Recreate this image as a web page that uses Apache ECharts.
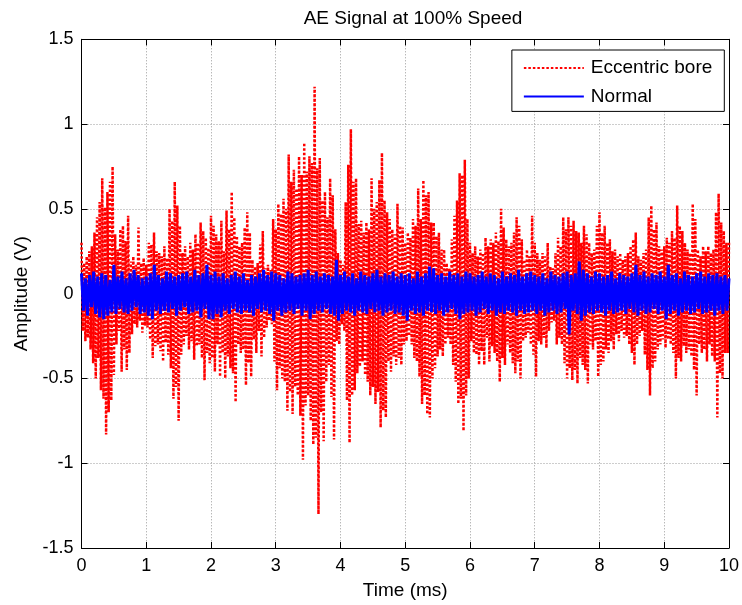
<!DOCTYPE html>
<html>
<head>
<meta charset="utf-8">
<script src="https://cdn.jsdelivr.net/npm/echarts@6/dist/echarts.min.js"></script>
<style>html,body{margin:0;padding:0;background:#fff;}#chart{width:742px;height:605px;}</style>
</head>
<body>
<div id="chart"></div>
<script>
// ---- data ----
var titleText = 'AE Signal at 100% Speed';
var seriesNames = ['Eccentric bore', 'Normal'];
var xRange = [0, 10];          // Time (ms)
var yRange = [-1.5, 1.5];      // Amplitude (V)
var xTickStep = 1;
var yTickStep = 0.5;

// Eccentric bore: successive samples (alternating crest / trough), 0 .. 10 ms
var eccentricValues = [
  0.30,-0.22,0.18,-0.28,0.22,-0.26,0.25,-0.33,0.28,-0.41,0.36,-0.50,0.45,-0.38,0.54,-0.57,0.68,-0.62,0.51,-0.83,
  0.60,-0.70,0.66,-0.63,0.75,-0.48,0.35,-0.30,0.26,-0.22,0.38,-0.46,0.40,-0.33,0.31,-0.45,0.46,-0.35,0.19,-0.24,
  0.22,-0.18,0.17,-0.20,0.39,-0.16,0.18,-0.23,0.21,-0.19,
  0.17,-0.20,0.30,-0.27,0.29,-0.38,0.36,-0.31,0.25,-0.30,0.24,-0.34,0.22,-0.40,0.28,-0.29,0.21,-0.36,0.50,-0.44,
  0.43,-0.62,0.66,-0.55,0.52,-0.75,0.40,-0.36,0.24,-0.30,0.28,-0.25,0.22,-0.33,0.30,-0.28,0.26,-0.39,0.35,-0.31,
  0.30,-0.30,0.42,-0.38,0.37,-0.51,0.33,-0.35,0.27,-0.41,
  0.46,-0.38,0.40,-0.46,0.35,-0.30,0.31,-0.49,0.43,-0.35,0.25,-0.50,0.49,-0.37,0.38,-0.44,0.60,-0.47,0.45,-0.64,
  0.34,-0.30,0.28,-0.35,0.30,-0.33,0.39,-0.54,0.48,-0.41,0.36,-0.49,0.20,-0.27,0.16,-0.35,0.18,-0.22,0.29,-0.37,
  0.37,-0.26,0.15,-0.20,0.17,-0.16,0.14,-0.18,0.44,-0.40,
  0.38,-0.57,0.53,-0.44,0.47,-0.50,0.56,-0.52,0.50,-0.69,0.82,-0.58,0.66,-0.71,0.73,-0.55,0.62,-0.60,0.81,-0.72,
  0.70,-0.98,0.89,-0.66,0.72,-0.60,0.81,-0.75,0.77,-0.89,1.22,-0.85,0.74,-1.30,0.80,-0.70,0.55,-0.87,0.60,-0.52,
  0.45,-0.42,0.68,-0.61,0.58,-0.86,0.38,-0.28,0.24,-0.30,
  0.20,-0.18,0.17,-0.22,0.54,-0.63,0.76,-0.88,0.97,-0.60,0.66,-0.57,0.68,-0.47,0.41,-0.43,0.43,-0.40,0.36,-0.48,
  0.42,-0.52,0.38,-0.60,0.68,-0.55,0.50,-0.65,0.54,-0.58,0.67,-0.79,0.83,-0.69,0.55,-0.73,0.48,-0.40,0.44,-0.46,
  0.38,-0.37,0.35,-0.42,0.53,-0.38,0.40,-0.42,0.39,-0.30,
  0.30,-0.28,0.36,-0.25,0.33,-0.30,0.44,-0.38,0.40,-0.40,0.62,-0.49,0.44,-0.65,0.67,-0.60,0.58,-0.71,0.60,-0.73,
  0.42,-0.50,0.42,-0.44,0.34,-0.37,0.36,-0.33,0.26,-0.37,0.26,-0.30,0.18,-0.26,0.15,-0.30,0.32,-0.42,0.46,-0.52,
  0.55,-0.65,0.71,-0.62,0.70,-0.81,0.79,-0.60,0.44,-0.50,
  0.30,-0.28,0.24,-0.35,0.28,-0.36,0.22,-0.42,0.26,-0.34,0.24,-0.42,0.33,-0.26,0.28,-0.40,0.32,-0.31,0.30,-0.35,
  0.36,-0.40,0.31,-0.52,0.50,-0.38,0.39,-0.42,0.32,-0.30,0.28,-0.35,0.30,-0.41,0.36,-0.47,0.45,-0.40,0.40,-0.50,
  0.32,-0.28,0.20,-0.26,0.26,-0.23,0.22,-0.30,0.46,-0.36,
  0.30,-0.49,0.24,-0.28,0.20,-0.30,0.24,-0.26,0.22,-0.32,0.30,-0.22,0.16,-0.17,0.15,-0.16,0.24,-0.30,0.33,-0.26,
  0.28,-0.30,0.45,-0.41,0.38,-0.50,0.45,-0.44,0.40,-0.51,0.43,-0.45,0.37,-0.53,0.36,-0.38,0.30,-0.42,0.40,-0.45,
  0.35,-0.53,0.30,-0.30,0.24,-0.33,0.26,-0.28,0.40,-0.49,
  0.48,-0.42,0.36,-0.40,0.40,-0.33,0.30,-0.35,0.32,-0.28,0.25,-0.33,0.26,-0.24,0.22,-0.28,0.24,-0.22,0.20,-0.26,
  0.22,-0.25,0.24,-0.30,0.28,-0.35,0.32,-0.42,0.36,-0.30,0.22,-0.25,0.20,-0.22,0.24,-0.36,0.26,-0.45,0.45,-0.60,
  0.52,-0.44,0.38,-0.40,0.42,-0.33,0.28,-0.30,0.26,-0.27,
  0.28,-0.32,0.33,-0.27,0.30,-0.30,0.37,-0.35,0.33,-0.50,0.52,-0.38,0.40,-0.40,0.37,-0.31,0.30,-0.35,0.26,-0.33,
  0.24,-0.37,0.53,-0.45,0.44,-0.60,0.26,-0.30,0.22,-0.35,0.28,-0.33,0.25,-0.40,0.28,-0.30,0.24,-0.37,0.26,-0.40,
  0.48,-0.73,0.59,-0.47,0.42,-0.50,0.37,-0.35,0.30,-0.35,
  0.30
];

// Normal: successive samples, 0 .. 10 ms
var normalValues = [
  0.12,-0.10,0.09,-0.13,0.11,-0.08,0.13,-0.12,0.10,-0.14,0.12,-0.15,0.11,-0.13,0.08,-0.11,0.17,-0.12,0.10,-0.09,0.13,-0.11,0.09,-0.12,0.12,-0.10,0.14,-0.08,0.11,-0.12,0.09,-0.11,
  0.10,-0.13,0.12,-0.15,0.17,-0.10,0.11,-0.12,0.09,-0.10,0.13,-0.11,0.12,-0.09,0.10,-0.13,0.11,-0.10,0.12,-0.08,0.13,-0.12,0.10,-0.11,0.14,-0.10,0.11,-0.14,0.12,-0.09,0.17,-0.15,
  0.11,-0.15,0.13,-0.12,0.10,-0.14,0.12,-0.10,0.09,-0.12,0.11,-0.09,0.13,-0.11,0.10,-0.12,0.12,-0.10,0.08,-0.11,0.11,-0.13,0.10,-0.09,0.12,-0.11,0.14,-0.10,0.11,-0.12,0.13,-0.16,
  0.12,-0.10,0.11,-0.13,0.09,-0.11,0.13,-0.10,0.12,-0.12,0.10,-0.09,0.11,-0.13,0.12,-0.10,0.14,-0.15,0.11,-0.12,0.13,-0.10,0.10,-0.11,0.12,-0.09,0.11,-0.12,0.10,-0.13,0.20,-0.16,
  0.11,-0.12,0.13,-0.10,0.10,-0.11,0.12,-0.13,0.09,-0.10,0.13,-0.11,0.11,-0.12,0.10,-0.09,0.12,-0.11,0.14,-0.10,0.10,-0.13,0.12,-0.11,0.11,-0.10,0.13,-0.12,0.10,-0.11,0.12,-0.13,
  0.11,-0.16,0.12,-0.10,0.09,-0.12,0.13,-0.11,0.10,-0.13,0.12,-0.10,0.16,-0.11,0.15,-0.12,0.11,-0.10,0.12,-0.13,0.10,-0.11,0.13,-0.09,0.11,-0.12,0.12,-0.15,0.10,-0.12,0.13,-0.11,
  0.12,-0.10,0.10,-0.13,0.11,-0.11,0.13,-0.09,0.10,-0.12,0.12,-0.10,0.11,-0.13,0.09,-0.11,0.13,-0.12,0.10,-0.10,0.12,-0.11,0.11,-0.13,0.14,-0.10,0.10,-0.12,0.12,-0.11,0.13,-0.10,
  0.11,-0.12,0.10,-0.10,0.12,-0.13,0.09,-0.11,0.13,-0.10,0.11,-0.12,0.10,-0.11,0.12,-0.09,0.13,-0.24,0.11,-0.10,0.12,-0.12,0.19,-0.16,0.14,-0.13,0.12,-0.11,0.10,-0.12,0.13,-0.10,
  0.12,-0.11,0.10,-0.13,0.11,-0.10,0.13,-0.12,0.09,-0.11,0.12,-0.10,0.11,-0.12,0.10,-0.09,0.12,-0.11,0.17,-0.13,0.11,-0.10,0.13,-0.12,0.10,-0.11,0.12,-0.09,0.11,-0.12,0.13,-0.10,
  0.10,-0.15,0.17,-0.12,0.11,-0.10,0.12,-0.13,0.09,-0.11,0.13,-0.10,0.11,-0.12,0.10,-0.11,0.12,-0.09,0.13,-0.12,0.10,-0.11,0.12,-0.10,0.11,-0.13,0.12,-0.10,0.10,-0.12,0.11,-0.10,0.09
];

// pair each sample with its time (uniform sampling over the record)
function withTime(vals) {
  var n = vals.length, out = [];
  for (var i = 0; i < n; i++) {
    out.push([xRange[0] + (xRange[1] - xRange[0]) * i / (n - 1), vals[i]]);
  }
  return out;
}

var FONT = '"Liberation Sans", Arial, sans-serif';
var chart = echarts.init(document.getElementById('chart'), null, {renderer: 'canvas'});

var gridLine = {show: true, lineStyle: {color: '#9a9a9a', width: 1, type: [1, 2]}};
var axisLine = {show: true, onZero: false, lineStyle: {color: '#000', width: 1}};
var tick = {show: true, inside: true, length: 6, lineStyle: {color: '#000'}};

chart.setOption({
  animation: false,
  backgroundColor: '#fff',
  title: {
    text: titleText,
    left: 408,
    textAlign: 'center',
    top: 4,
    textStyle: {fontFamily: FONT, fontSize: 19, fontWeight: 'normal', color: '#000'}
  },
  legend: {
    data: seriesNames,
    orient: 'vertical',
    right: 17.7,
    top: 50,
    padding: [8, 12, 5, 11],
    itemWidth: 60,
    itemHeight: 20,
    itemGap: 8.4,
    borderColor: '#000',
    borderWidth: 1,
    backgroundColor: '#fff',
    borderRadius: 0,
    itemStyle: {opacity: 0, borderWidth: 0},
    textStyle: {fontFamily: FONT, fontSize: 19, color: '#000', lineHeight: 20, padding: [0, 0, 0, 2]}
  },
  grid: {left: 81.5, right: 9.5, top: 39.3, bottom: 53.3, containLabel: false},
  xAxis: [{
    type: 'value', min: xRange[0], max: xRange[1], interval: xTickStep, position: 'bottom',
    name: 'Time (ms)', nameLocation: 'middle', nameGap: 33,
    nameTextStyle: {fontFamily: FONT, fontSize: 19, color: '#000'},
    axisLine: axisLine, axisTick: tick,
    axisLabel: {fontFamily: FONT, fontSize: 18, color: '#000', margin: 9},
    splitLine: gridLine
  }, {
    type: 'value', min: xRange[0], max: xRange[1], interval: xTickStep, position: 'top',
    axisLine: axisLine, axisTick: tick,
    axisLabel: {show: false}, splitLine: {show: false}
  }],
  yAxis: [{
    type: 'value', min: yRange[0], max: yRange[1], interval: yTickStep, position: 'left',
    name: 'Amplitude (V)', nameLocation: 'middle', nameGap: 46,
    nameTextStyle: {fontFamily: FONT, fontSize: 19, color: '#000'},
    axisLine: axisLine, axisTick: tick,
    axisLabel: {fontFamily: FONT, fontSize: 18, color: '#000', margin: 8},
    splitLine: gridLine
  }, {
    type: 'value', min: yRange[0], max: yRange[1], interval: yTickStep, position: 'right',
    axisLine: axisLine, axisTick: tick,
    axisLabel: {show: false}, splitLine: {show: false}
  }],
  series: [{
    name: seriesNames[0], type: 'line', xAxisIndex: 0, yAxisIndex: 0,
    data: withTime(eccentricValues), showSymbol: false, symbol: 'none', sampling: null,
    lineStyle: {color: '#ff0000', width: 2.5, type: [2.5, 2]},
    itemStyle: {color: '#ff0000'}, z: 2
  }, {
    name: seriesNames[1], type: 'line', xAxisIndex: 0, yAxisIndex: 0,
    data: withTime(normalValues), showSymbol: false, symbol: 'none', sampling: null,
    lineStyle: {color: '#0000ff', width: 3, type: 'solid'},
    itemStyle: {color: '#0000ff'}, z: 3
  }]
});
</script>
</body>
</html>
